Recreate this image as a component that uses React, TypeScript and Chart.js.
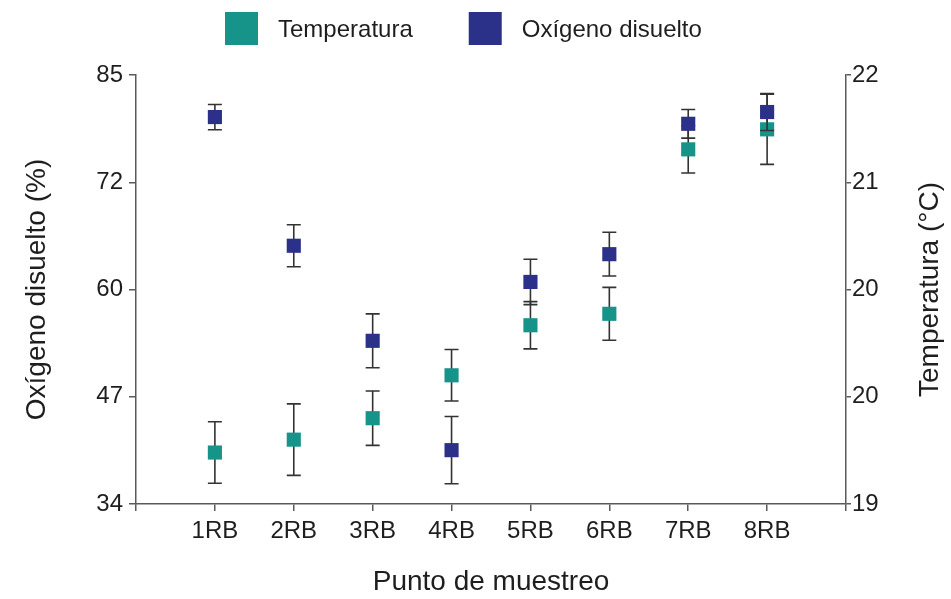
import React, { useEffect, useRef } from 'react';
import { Chart, registerables } from 'chart.js';

Chart.register(...registerables);

const categories = ['1RB', '2RB', '3RB', '4RB', '5RB', '6RB', '7RB', '8RB'];
const oxygen = [80.0, 64.7, 53.4, 40.4, 60.4, 63.7, 79.2, 80.6];
const oxygenErr = [1.5, 2.5, 3.2, 4.0, 2.7, 2.6, 1.7, 2.2];
const temperature = [19.36, 19.45, 19.6, 19.9, 20.25, 20.33, 21.48, 21.62];
const temperatureErr = [0.215, 0.25, 0.19, 0.18, 0.165, 0.185, 0.165, 0.245];
const oxygenTicks = [34, 46.75, 59.5, 72.25, 85];
const oxygenTickLabels = ['34', '47', '60', '72', '85'];
const tempTicks = [19, 19.75, 20.5, 21.25, 22];
const tempTickLabels = ['19', '20', '20', '21', '22'];
const rightTitle = 'Temperatura (°C)';

const FONT = '"Liberation Sans", Arial, Helvetica, sans-serif';
const TEAL = '#17948a';
const NAVY = '#2b3189';
const AXIS = '#5a5a5a';
const TEXT = '#1e1e1e';

const errorBarPlugin = {
  id: 'errorBars',
  beforeDatasetDraw(chart: any, args: any) {
    const ds = chart.data.datasets[args.index];
    if (!ds.errors) return;
    const meta = chart.getDatasetMeta(args.index);
    const yScale = chart.scales[ds.yAxisID];
    const ctx = chart.ctx;
    ctx.save();
    ctx.strokeStyle = '#333333';
    ctx.lineWidth = 1.6;
    meta.data.forEach((pt: any, i: number) => {
      const raw = ds.data[i];
      const e = ds.errors[i];
      const x = pt.x;
      const yTop = yScale.getPixelForValue(raw.y + e);
      const yBot = yScale.getPixelForValue(raw.y - e);
      ctx.beginPath();
      ctx.moveTo(x, yTop);
      ctx.lineTo(x, yBot);
      ctx.moveTo(x - 7, yTop);
      ctx.lineTo(x + 7, yTop);
      ctx.moveTo(x - 7, yBot);
      ctx.lineTo(x + 7, yBot);
      ctx.stroke();
    });
    ctx.restore();
  },
};

const legendPlugin = {
  id: 'customLegend',
  afterDraw(chart: any) {
    const ctx = chart.ctx;
    ctx.save();
    ctx.font = `24px ${FONT}`;
    ctx.textBaseline = 'middle';
    ctx.textAlign = 'left';
    let x = 225;
    const box = 33;
    const boxTop = 12;
    chart.data.datasets.forEach((ds: any) => {
      ctx.fillStyle = ds.backgroundColor;
      ctx.fillRect(x, boxTop, box, box);
      x += box + 20;
      ctx.fillStyle = TEXT;
      ctx.fillText(ds.label, x, 30);
      x += ctx.measureText(ds.label).width + 56;
    });
    // right axis title, read bottom-to-top like the left one
    const area = chart.chartArea;
    ctx.translate(930, (area.top + area.bottom) / 2);
    ctx.rotate(-Math.PI / 2);
    ctx.font = `28px ${FONT}`;
    ctx.textAlign = 'center';
    ctx.textBaseline = 'middle';
    ctx.fillText(rightTitle, 0, 0);
    ctx.restore();
  },
};

export default function App() {
  const ref = useRef<HTMLCanvasElement | null>(null);

  useEffect(() => {
    if (!ref.current) return;
    const chart = new Chart(ref.current, {
      type: 'scatter',
      data: {
        datasets: [
          {
            label: 'Temperatura',
            data: temperature.map((v, i) => ({ x: i + 1, y: v })),
            errors: temperatureErr,
            yAxisID: 'yT',
            backgroundColor: TEAL,
            borderColor: TEAL,
            pointStyle: 'rect',
            pointRadius: 10,
            pointHoverRadius: 10,
            pointBorderWidth: 0,
            order: 2,
            clip: false,
          } as any,
          {
            label: 'Oxígeno disuelto',
            data: oxygen.map((v, i) => ({ x: i + 1, y: v })),
            errors: oxygenErr,
            yAxisID: 'yO',
            backgroundColor: NAVY,
            borderColor: NAVY,
            pointStyle: 'rect',
            pointRadius: 10,
            pointHoverRadius: 10,
            pointBorderWidth: 0,
            order: 1,
            clip: false,
          } as any,
        ],
      },
      options: {
        responsive: false,
        animation: false,
        devicePixelRatio: 1,
        layout: { padding: { top: 75, left: 0, right: 0, bottom: 0 } },
        plugins: {
          legend: { display: false },
          tooltip: { enabled: false },
        },
        scales: {
          x: {
            type: 'linear',
            min: 0,
            max: 9,
            afterBuildTicks: (scale: any) => {
              scale.ticks = Array.from({ length: categories.length + 2 }, (_, i) => ({ value: i }));
            },
            afterFit: (scale: any) => {
              scale.height = 95;
            },
            ticks: {
              autoSkip: false,
              maxRotation: 0,
              padding: 6,
              color: TEXT,
              font: { family: FONT, size: 24 },
              callback: (v: any) => categories[Number(v) - 1] ?? '',
            },
            grid: {
              drawOnChartArea: false,
              drawTicks: true,
              tickLength: 7,
              color: AXIS,
              lineWidth: 1.5,
            },
            border: { display: true, color: AXIS, width: 1.5 },
            title: {
              display: true,
              text: 'Punto de muestreo',
              color: TEXT,
              font: { family: FONT, size: 28 },
              padding: { top: 0, bottom: 0 },
            },
          },
          yO: {
            type: 'linear',
            position: 'left',
            min: 34,
            max: 85,
            afterBuildTicks: (scale: any) => {
              scale.ticks = oxygenTicks.map((v) => ({ value: v }));
            },
            afterFit: (scale: any) => {
              scale.width = 136;
            },
            ticks: {
              padding: 6,
              color: TEXT,
              font: { family: FONT, size: 24 },
              callback: (_v: any, i: number) => oxygenTickLabels[i],
            },
            grid: {
              drawOnChartArea: false,
              drawTicks: true,
              tickLength: 7,
              color: AXIS,
              lineWidth: 1.5,
            },
            border: { display: true, color: AXIS, width: 1.5 },
            title: {
              display: true,
              text: 'Oxígeno disuelto (%)',
              color: TEXT,
              font: { family: FONT, size: 28 },
              padding: { top: 20, bottom: 0 },
            },
          },
          yT: {
            type: 'linear',
            position: 'right',
            min: 19,
            max: 22,
            afterBuildTicks: (scale: any) => {
              scale.ticks = tempTicks.map((v) => ({ value: v }));
            },
            afterFit: (scale: any) => {
              scale.width = 105;
            },
            ticks: {
              padding: 1,
              color: TEXT,
              font: { family: FONT, size: 24 },
              callback: (_v: any, i: number) => tempTickLabels[i],
            },
            grid: {
              drawOnChartArea: false,
              drawTicks: true,
              tickLength: 5,
              color: AXIS,
              lineWidth: 1.5,
            },
            border: { display: true, color: AXIS, width: 1.5 },
            title: { display: false },
          },
        },
      } as any,
      plugins: [errorBarPlugin, legendPlugin],
    });
    return () => chart.destroy();
  }, []);

  return (
    <div style={{ position: 'fixed', left: 0, top: 0, width: 951, height: 599, background: '#fff' }}>
      <canvas ref={ref} width={951} height={599} style={{ display: 'block', width: 951, height: 599 }} />
    </div>
  );
}
